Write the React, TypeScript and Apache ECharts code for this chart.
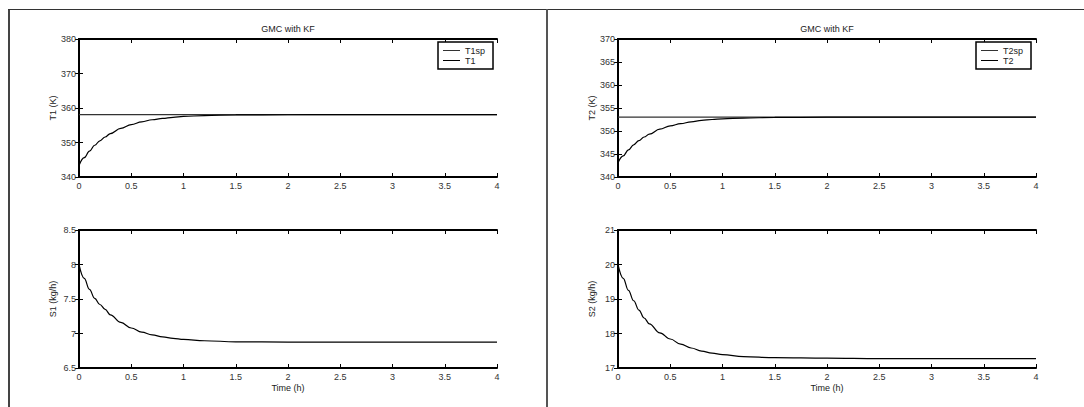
import React, { useEffect, useRef } from "react";
import * as echarts from "echarts";

const timeH = [0, 0.05, 0.1, 0.15, 0.2, 0.25, 0.3, 0.4, 0.5, 0.6, 0.7, 0.8, 0.9, 1.0, 1.2, 1.5, 2.0, 2.5, 3.0, 3.5, 4.0];
const t1sp = [358.1, 358.1, 358.1, 358.1, 358.1, 358.1, 358.1, 358.1, 358.1, 358.1, 358.1, 358.1, 358.1, 358.1, 358.1, 358.1, 358.1, 358.1, 358.1, 358.1, 358.1];
const t1 = [343.3, 345.6, 347.5, 349.2, 350.5, 351.6, 352.6, 354.1, 355.2, 356.0, 356.6, 357.0, 357.3, 357.55, 357.8, 358.0, 358.05, 358.1, 358.1, 358.1, 358.1];
const t2sp = [353.0, 353.0, 353.0, 353.0, 353.0, 353.0, 353.0, 353.0, 353.0, 353.0, 353.0, 353.0, 353.0, 353.0, 353.0, 353.0, 353.0, 353.0, 353.0, 353.0, 353.0];
const t2 = [343.1, 344.6, 345.9, 347.0, 347.9, 348.7, 349.3, 350.4, 351.1, 351.6, 352.0, 352.3, 352.5, 352.65, 352.8, 352.95, 353.0, 353.0, 353.0, 353.0, 353.0];
const s1 = [8.0, 7.8, 7.64, 7.51, 7.42, 7.35, 7.27, 7.16, 7.08, 7.02, 6.98, 6.95, 6.93, 6.915, 6.895, 6.88, 6.875, 6.875, 6.875, 6.875, 6.875];
const s2 = [20.0, 19.6, 19.25, 18.95, 18.68, 18.45, 18.28, 18.02, 17.84, 17.69, 17.58, 17.49, 17.43, 17.39, 17.33, 17.3, 17.285, 17.27, 17.27, 17.27, 17.27];

const titleText = "GMC with KF";
const xName = "Time (h)";
const yNames = ["T1 (K)", "S1 (kg/h)", "T2 (K)", "S2 (kg/h)"];
const yRanges = [
  { min: 340, max: 380, interval: 10 },
  { min: 6.5, max: 8.5, interval: 0.5 },
  { min: 340, max: 370, interval: 5 },
  { min: 17, max: 21, interval: 1 },
];

const FONT = '"Liberation Sans", Arial, sans-serif';

export default function App() {
  const ref = useRef<HTMLDivElement>(null);
  useEffect(() => {
    if (!ref.current) return;
    const chart = echarts.init(ref.current, null, { renderer: "svg" });
    const grids = [
      { left: 79, top: 39, width: 418, height: 138 },
      { left: 79, top: 230, width: 418, height: 138 },
      { left: 618, top: 39, width: 418, height: 138 },
      { left: 618, top: 230, width: 418, height: 138 },
    ];
    const axisLine = { show: true, lineStyle: { color: "#000", width: 2 } };
    const tick = { show: true, inside: true, length: 4, lineStyle: { color: "#000", width: 1 } };
    const lbl = { color: "#333", fontSize: 9, fontFamily: FONT };
    const xAxes: any[] = [];
    const yAxes: any[] = [];
    for (let i = 0; i < 4; i++) {
      xAxes.push({
        type: "value", gridIndex: i, min: 0, max: 4, interval: 0.5, position: "bottom",
        axisLine, axisTick: tick, splitLine: { show: false },
        axisLabel: { ...lbl, margin: 4 },
        name: i === 1 || i === 3 ? xName : "",
        nameLocation: "middle", nameGap: 15,
        nameTextStyle: { color: "#222", fontSize: 9, fontFamily: FONT },
      });
    }
    for (let i = 0; i < 4; i++) {
      xAxes.push({
        type: "value", gridIndex: i, min: 0, max: 4, interval: 0.5, position: "top",
        axisLine, axisTick: tick, splitLine: { show: false }, axisLabel: { show: false },
      });
    }
    for (let i = 0; i < 4; i++) {
      yAxes.push({
        type: "value", gridIndex: i, ...yRanges[i], position: "left",
        axisLine, axisTick: tick, splitLine: { show: false },
        axisLabel: { ...lbl, margin: 3 },
        name: yNames[i], nameLocation: "middle", nameRotate: 90, nameGap: 22,
        nameTextStyle: { color: "#222", fontSize: 9, fontFamily: FONT },
      });
    }
    for (let i = 0; i < 4; i++) {
      yAxes.push({
        type: "value", gridIndex: i, ...yRanges[i], position: "right",
        axisLine, axisTick: tick, splitLine: { show: false }, axisLabel: { show: false },
      });
    }
    const pts = (ys: number[]) => timeH.map((t, k) => [t, ys[k]]);
    const line = (name: string, data: number[], gi: number, color: string) => ({
      type: "line", name, xAxisIndex: gi, yAxisIndex: gi, data: pts(data),
      showSymbol: false, symbol: "none", smooth: 0.4, smoothMonotone: "x",
      lineStyle: { color, width: 1.2 }, itemStyle: { color },
    });
    const legendBase = {
      orient: "vertical", top: 42, itemWidth: 17, itemHeight: 1, itemGap: 1,
      icon: "rect", padding: [4, 8, 4, 5], borderColor: "#000", borderWidth: 1.5,
      backgroundColor: "#fff", textStyle: { fontSize: 9, fontFamily: FONT, color: "#222", padding: [0, 0, 0, 0] },
    };
    chart.setOption({
      animation: false,
      backgroundColor: "#fff",
      grid: grids.map((g) => ({ ...g, containLabel: false })),
      xAxis: xAxes,
      yAxis: yAxes,
      legend: [
        { ...legendBase, left: 438, data: ["T1sp", "T1"] },
        { ...legendBase, left: 976, data: ["T2sp", "T2"] },
      ],
      series: [
        line("T1sp", t1sp, 0, "#333"),
        line("T1", t1, 0, "#000"),
        line("S1", s1, 1, "#000"),
        line("T2sp", t2sp, 2, "#333"),
        line("T2", t2, 2, "#000"),
        line("S2", s2, 3, "#000"),
      ],
      graphic: [
        { type: "line", shape: { x1: 9, y1: 9, x2: 9, y2: 407 }, style: { stroke: "#444", lineWidth: 2 } },
        { type: "line", shape: { x1: 8, y1: 9.5, x2: 1084, y2: 9.5 }, style: { stroke: "#333", lineWidth: 1 } },
        { type: "line", shape: { x1: 547, y1: 9, x2: 547, y2: 407 }, style: { stroke: "#555", lineWidth: 2 } },
        { type: "text", x: 288, y: 29, style: { text: titleText, align: "center", verticalAlign: "middle", fontSize: 9, fontFamily: FONT, fill: "#222" } },
        { type: "text", x: 827, y: 29, style: { text: titleText, align: "center", verticalAlign: "middle", fontSize: 9, fontFamily: FONT, fill: "#222" } },
      ],
    });
    return () => chart.dispose();
  }, []);
  return <div ref={ref} style={{ position: "fixed", left: 0, top: 0, width: 1084, height: 407 }} />;
}
